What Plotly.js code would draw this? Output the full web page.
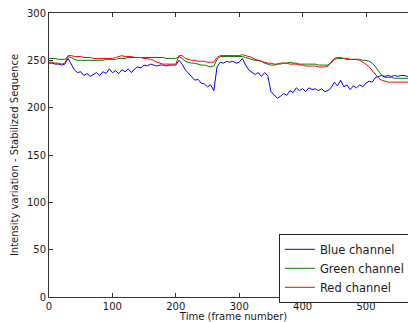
<!DOCTYPE html>
<html>
<head>
<meta charset="utf-8">
<script src="https://cdn.plot.ly/plotly-3.0.1.min.js"></script>
<style>
  html, body { margin: 0; padding: 0; overflow: hidden; background: #ffffff; }
  #chart { width: 430px; height: 322px; }
</style>
</head>
<body>
<div id="chart"></div>
<script>
const frames = [0,5,10,15,20,25,30,35,40,45,50,55,60,65,70,75,80,85,90,95,
  100,105,110,115,120,125,130,135,140,145,150,155,160,165,170,175,180,185,190,195,
  200,205,210,215,220,225,230,235,240,245,250,255,260,265,270,275,280,285,290,295,
  300,305,310,315,320,325,330,335,340,345,350,355,360,365,370,375,380,385,390,395,
  400,405,410,415,420,425,430,435,440,445,450,455,460,465,470,475,480,485,490,495,
  500,505,510,515,520,525,530,535,540,545,550,555,560,565,570,575,580];

const blueChannel = [247,247,246,246,245,246,252,246,240,237,238,234,236,233,235,237,234,238,236,241,
  237,239,236,240,238,241,237,241,243,242,245,244,246,245,244,245,245,244,245,245,
  245,250,246,240,236,232,229,230,226,225,222,224,218,243,248,247,249,248,249,247,
  248,252,245,240,237,235,237,233,237,234,217,213,210,212,215,213,218,216,221,218,
  220,217,221,219,220,218,220,217,218,221,227,223,229,222,224,219,223,221,224,222,
  226,228,227,232,233,234,233,234,233,234,233,234,234,233,234,234,233];

const greenChannel = [252,252,252,251,251,251,254,253,251,250,250,250,250,250,250,250,250,250,251,251,
  251,251,252,252,252,253,253,253,253,253,253,253,253,253,253,253,253,252,252,252,
  252,254,252,249,248,247,247,246,245,245,244,243,244,251,254,254,254,254,254,254,
  254,254,253,252,251,250,250,249,247,246,245,245,246,246,247,247,248,247,247,246,
  246,246,246,246,246,245,245,245,245,247,251,252,252,252,251,251,251,251,251,250,
  250,249,247,243,238,234,232,232,232,231,231,231,231,231,231,231,231];

const redChannel = [248,248,247,247,246,247,255,255,254,254,254,253,253,253,252,252,252,252,252,252,
  252,253,254,255,254,254,254,253,253,253,252,252,251,250,248,247,246,246,246,246,
  246,255,255,252,251,250,250,249,249,249,248,248,248,253,255,255,255,255,255,255,
  255,256,255,254,253,251,250,249,248,247,247,246,246,247,247,247,246,246,246,245,
  245,244,244,244,244,243,243,243,244,248,252,253,253,252,252,251,251,251,250,248,
  246,243,239,235,231,229,228,227,227,227,227,227,227,227,227,227,227];

const seriesNames = ['Blue channel', 'Green channel', 'Red channel'];
const xTicks = [0,100,200,300,400,500];
const yTicks = [0,50,100,150,200,250,300];

const colors = ['#0000ff', '#008000', '#ff0000'];
const seriesData = [blueChannel, greenChannel, redChannel];

const traces = seriesData.map((ys, i) => ({
  x: frames,
  y: ys,
  type: 'scatter',
  mode: 'lines',
  name: seriesNames[i],
  line: { color: colors[i], width: 1 }
}));

const axisCommon = {
  showgrid: false,
  zeroline: false,
  showline: true,
  linecolor: '#333333',
  linewidth: 1,
  mirror: 'ticks',
  ticks: 'inside',
  ticklen: 4,
  tickcolor: '#333333',
  tickfont: { family: 'DejaVu Sans', size: 10, color: '#1a1a1a' }
};

const layout = {
  width: 430,
  height: 322,
  margin: { l: 49, r: 12, t: 13, b: 25 },
  paper_bgcolor: '#ffffff',
  plot_bgcolor: '#ffffff',
  font: { family: 'DejaVu Sans', size: 10, color: '#1a1a1a' },
  xaxis: Object.assign({}, axisCommon, {
    range: [0, 582],
    tickvals: xTicks,
    ticktext: xTicks.map(String),
    title: { text: 'Time (frame number)', font: { family: 'DejaVu Sans', size: 10, color: '#1a1a1a' }, standoff: 0 }
  }),
  yaxis: Object.assign({}, axisCommon, {
    range: [0, 300],
    tickvals: yTicks,
    ticktext: yTicks.map(String),
    title: { text: 'Intensity variation - Stabilized Sequence', font: { family: 'DejaVu Sans', size: 10, color: '#1a1a1a' }, standoff: 6 }
  }),
  showlegend: true,
  legend: {
    x: 0.623,
    y: 0.2225,
    xanchor: 'left',
    yanchor: 'top',
    bgcolor: '#ffffff',
    bordercolor: '#222222',
    borderwidth: 1,
    font: { family: 'DejaVu Sans', size: 11.5, color: '#1a1a1a' },
    tracegroupgap: 0
  }
};

Plotly.newPlot('chart', traces, layout, { staticPlot: true, displayModeBar: false });
</script>
</body>
</html>
